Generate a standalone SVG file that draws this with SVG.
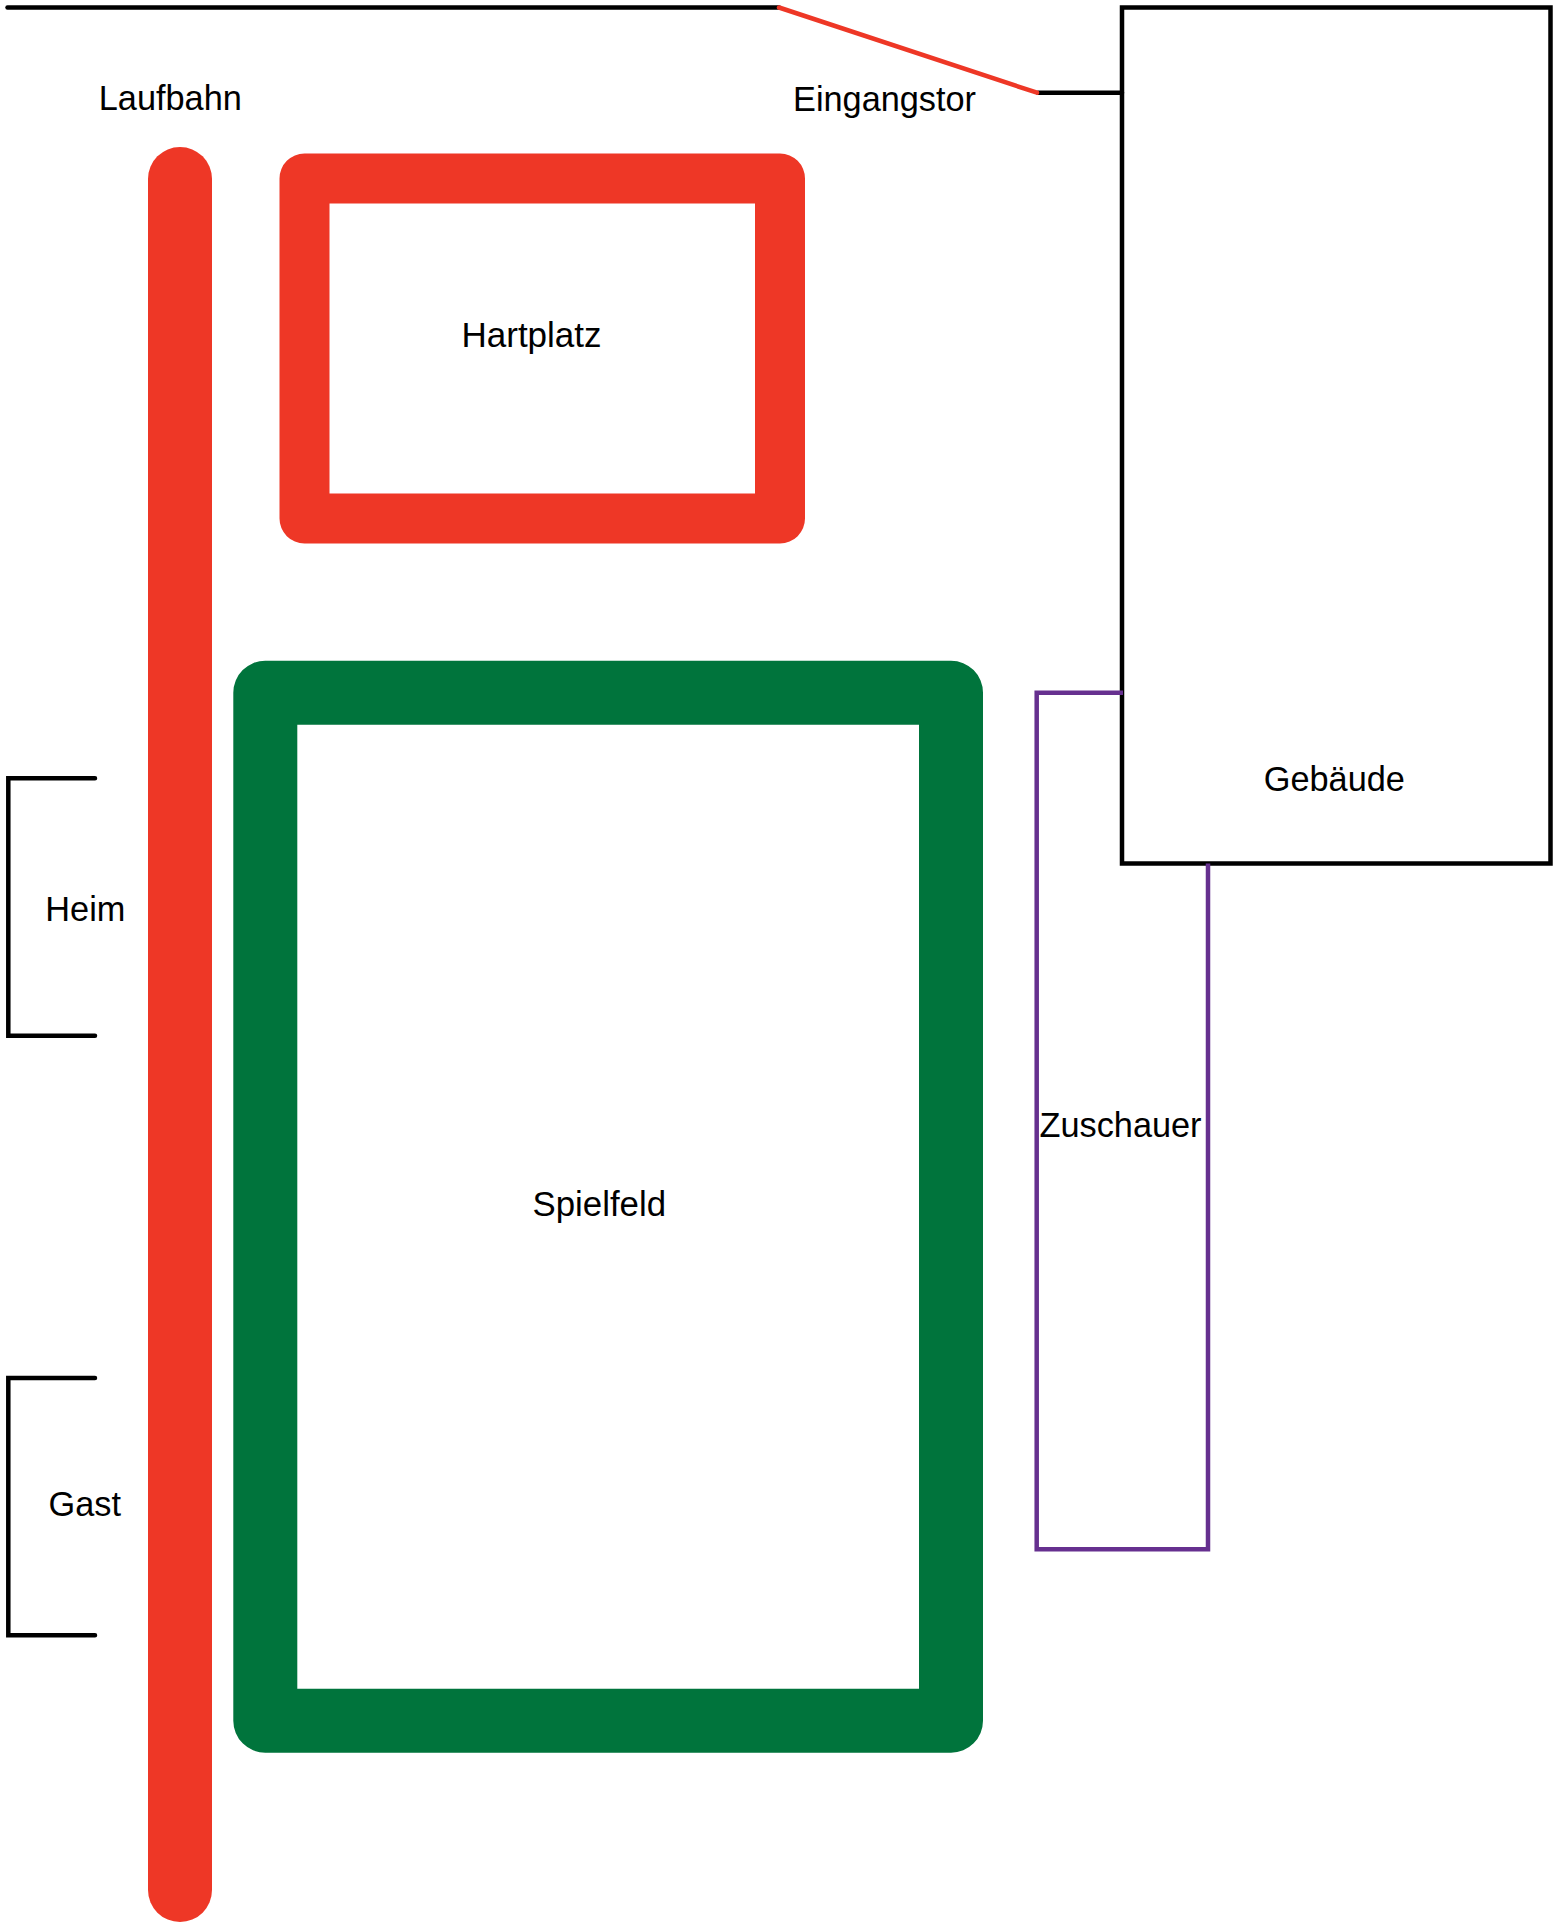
<svg xmlns="http://www.w3.org/2000/svg" width="1562" height="1922" viewBox="0 0 1562 1922">
<style>
text{font-family:"Liberation Sans",Arial,sans-serif;font-size:34.300px;fill:#000}
.blk{fill:none;stroke:#000;stroke-width:4.500;stroke-linecap:round;stroke-linejoin:miter}
.thin{fill:none;stroke:#EE3726;stroke-width:4.500;stroke-linecap:round}
.pur{fill:none;stroke:#66308F;stroke-width:4.500;stroke-linejoin:miter}
</style>
<rect width="1562" height="1922" fill="#fff"/>
<g id="connectors">
<path class="blk" d="M7.500 7.500H779"/>
<path class="blk" d="M1038 92.700H1122"/>
<path class="thin" d="M779 7.500L1037 92.700"/>
</g>
<g id="laufbahn">
<path d="M180 179V1890" fill="none" stroke="#EE3726" stroke-width="64" stroke-linecap="round"/>
<text x="98.800" y="110">Laufbahn</text>
</g>
<g id="hartplatz">
<rect x="304.500" y="178.500" width="475.500" height="340" fill="none" stroke="#EE3726" stroke-width="50" stroke-linejoin="round"/>
<text x="461.500" y="347" style="font-size:35px">Hartplatz</text>
</g>
<g id="spielfeld">
<rect x="265.300" y="692.700" width="685.700" height="1028" fill="none" stroke="#00743C" stroke-width="64" stroke-linejoin="round"/>
<text x="532.500" y="1216" style="font-size:34.800px">Spielfeld</text>
</g>
<g id="gebaeude">
<rect x="1122" y="7.500" width="428.500" height="856" class="blk"/>
<text x="1263.800" y="790.700">Gebäude</text>
</g>
<g id="eingangstor">
<text x="793" y="110.700">Eingangstor</text>
</g>
<g id="zuschauer">
<path class="pur" d="M1123 692.700H1036.700V1549.300H1208V863.500"/>
<text x="1039.500" y="1136.700">Zuschauer</text>
</g>
<g id="heim">
<path class="blk" d="M95 778.300H8.300V1035.700H95"/>
<text x="45.300" y="920.700">Heim</text>
</g>
<g id="gast">
<path class="blk" d="M95 1378H8.300V1635.300H95"/>
<text x="48.500" y="1516">Gast</text>
</g>
</svg>
